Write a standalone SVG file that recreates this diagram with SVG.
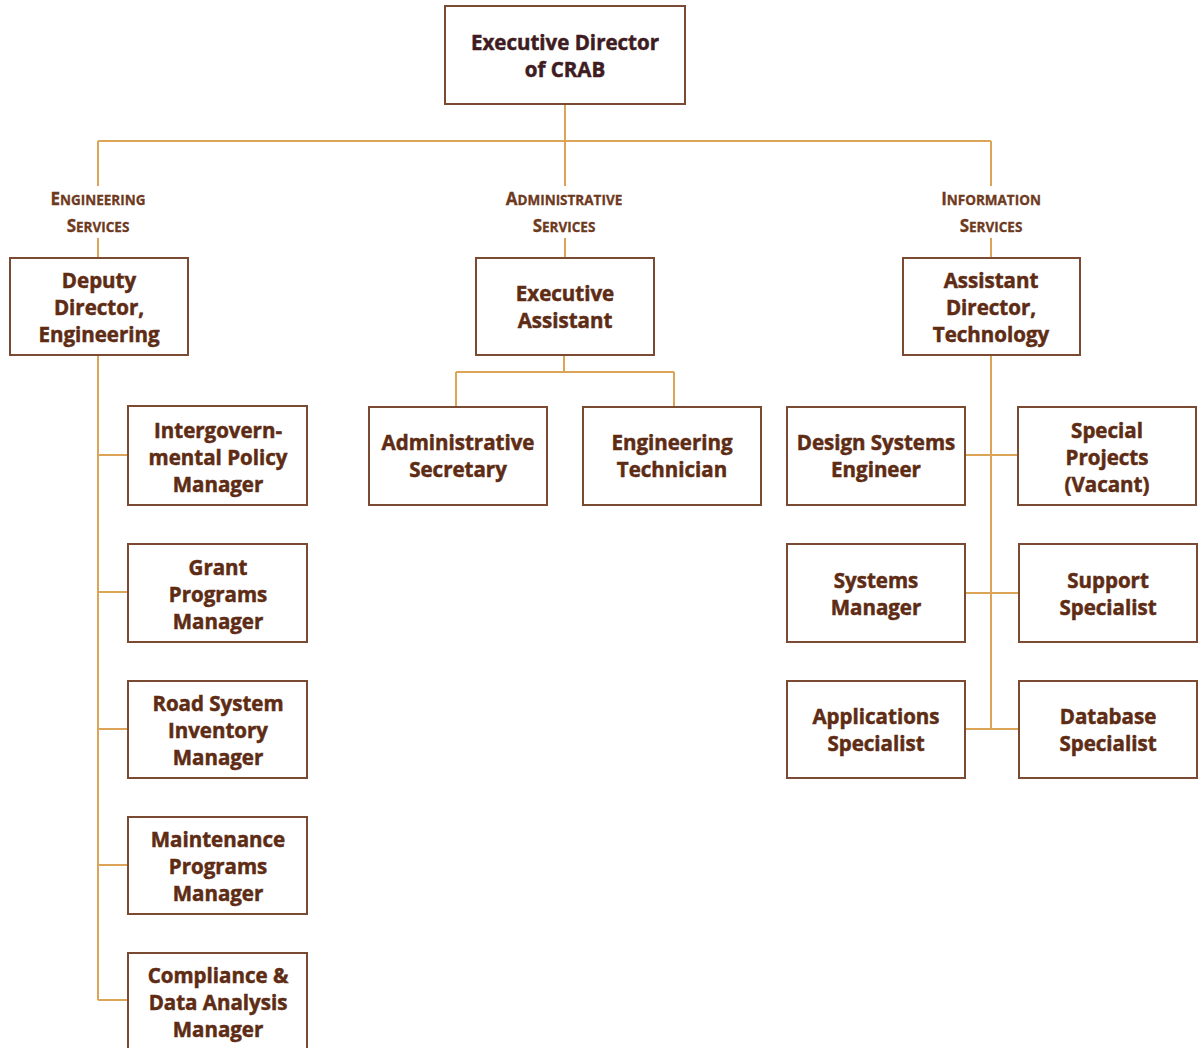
<svg xmlns="http://www.w3.org/2000/svg" width="1200" height="1048" viewBox="0 0 1200 1048">
<style>
.box{fill:#fff;stroke:#7a4a32;stroke-width:2}
.t{font-family:"Open Sans","Noto Sans",sans-serif;font-weight:bold;font-size:20.5px;fill:#5e2c14;stroke:#5e2c14;stroke-width:0.5;text-anchor:middle}
.top{fill:#3e1c22;stroke:#3e1c22}
.lbl{font-family:"Open Sans","Noto Sans",sans-serif;font-weight:bold;fill:#6e3a1e;stroke:#6e3a1e;stroke-width:0.3;text-anchor:middle}
.big{font-size:17px}
.sm{font-size:13.5px}
.c{fill:none;stroke:#dba457;stroke-width:2}
</style>
<rect width="1200" height="1048" fill="#fff"/>
<g id="connectors">
<path class="c" d="M565 104V141M98 141H991M98 141V186M565 141V186M991 141V186M98 238V258M565 238V258M991 238V258"/>
<path class="c" d="M98 355V1000M98 455H128M98 592H128M98 729H128M98 865H128M98 1000H128"/>
<path class="c" d="M564 355V372M456 372H674M456 372V407M674 372V407"/>
<path class="c" d="M991 355V729M965 455H1018M965 593H1019M965 729H1019"/>
</g>
<g id="exec-director"><rect class="box" x="445" y="6" width="240" height="98"/><text class="t top" x="565" y="50">Executive Director</text><text class="t top" x="565" y="77">of CRAB</text></g>
<g id="label-engineering"><text class="lbl" x="98" y="205"><tspan class="big">E</tspan><tspan class="sm">NGINEERING</tspan></text><text class="lbl" x="98" y="232"><tspan class="big">S</tspan><tspan class="sm">ERVICES</tspan></text></g>
<g id="label-admin"><text class="lbl" x="564" y="205"><tspan class="big">A</tspan><tspan class="sm">DMINISTRATIVE</tspan></text><text class="lbl" x="564" y="232"><tspan class="big">S</tspan><tspan class="sm">ERVICES</tspan></text></g>
<g id="label-info"><text class="lbl" x="991" y="205"><tspan class="big">I</tspan><tspan class="sm">NFORMATION</tspan></text><text class="lbl" x="991" y="232"><tspan class="big">S</tspan><tspan class="sm">ERVICES</tspan></text></g>
<g id="deputy-director"><rect class="box" x="10" y="258" width="178" height="97"/><text class="t" x="99" y="288">Deputy</text><text class="t" x="99" y="315">Director,</text><text class="t" x="99" y="342">Engineering</text></g>
<g id="exec-assistant"><rect class="box" x="476" y="258" width="178" height="97"/><text class="t" x="565" y="301">Executive</text><text class="t" x="565" y="328">Assistant</text></g>
<g id="assistant-director"><rect class="box" x="903" y="258" width="177" height="97"/><text class="t" x="991" y="288">Assistant</text><text class="t" x="991" y="315">Director,</text><text class="t" x="991" y="342">Technology</text></g>
<g id="intergov"><rect class="box" x="128" y="406" width="179" height="99"/><text class="t" x="218" y="438">Intergovern-</text><text class="t" x="218" y="465">mental Policy</text><text class="t" x="218" y="492">Manager</text></g>
<g id="grant"><rect class="box" x="128" y="544" width="179" height="98"/><text class="t" x="218" y="575">Grant</text><text class="t" x="218" y="602">Programs</text><text class="t" x="218" y="629">Manager</text></g>
<g id="road"><rect class="box" x="128" y="681" width="179" height="97"/><text class="t" x="218" y="711">Road System</text><text class="t" x="218" y="738">Inventory</text><text class="t" x="218" y="765">Manager</text></g>
<g id="maintenance"><rect class="box" x="128" y="817" width="179" height="97"/><text class="t" x="218" y="847">Maintenance</text><text class="t" x="218" y="874">Programs</text><text class="t" x="218" y="901">Manager</text></g>
<g id="compliance"><rect class="box" x="128" y="953" width="179" height="100"/><text class="t" x="218" y="983">Compliance &amp;</text><text class="t" x="218" y="1010">Data Analysis</text><text class="t" x="218" y="1037">Manager</text></g>
<g id="admin-secretary"><rect class="box" x="369" y="407" width="178" height="98"/><text class="t" x="458" y="450">Administrative</text><text class="t" x="458" y="477">Secretary</text></g>
<g id="eng-technician"><rect class="box" x="583" y="407" width="178" height="98"/><text class="t" x="672" y="450">Engineering</text><text class="t" x="672" y="477">Technician</text></g>
<g id="design-systems"><rect class="box" x="787" y="407" width="178" height="98"/><text class="t" x="876" y="450">Design Systems</text><text class="t" x="876" y="477">Engineer</text></g>
<g id="special-projects"><rect class="box" x="1018" y="407" width="178" height="98"/><text class="t" x="1107" y="438">Special</text><text class="t" x="1107" y="465">Projects</text><text class="t" x="1107" y="492">(Vacant)</text></g>
<g id="systems-manager"><rect class="box" x="787" y="544" width="178" height="98"/><text class="t" x="876" y="588">Systems</text><text class="t" x="876" y="615">Manager</text></g>
<g id="support"><rect class="box" x="1019" y="544" width="178" height="98"/><text class="t" x="1108" y="588">Support</text><text class="t" x="1108" y="615">Specialist</text></g>
<g id="applications"><rect class="box" x="787" y="681" width="178" height="97"/><text class="t" x="876" y="724">Applications</text><text class="t" x="876" y="751">Specialist</text></g>
<g id="database"><rect class="box" x="1019" y="681" width="178" height="97"/><text class="t" x="1108" y="724">Database</text><text class="t" x="1108" y="751">Specialist</text></g>
</svg>
